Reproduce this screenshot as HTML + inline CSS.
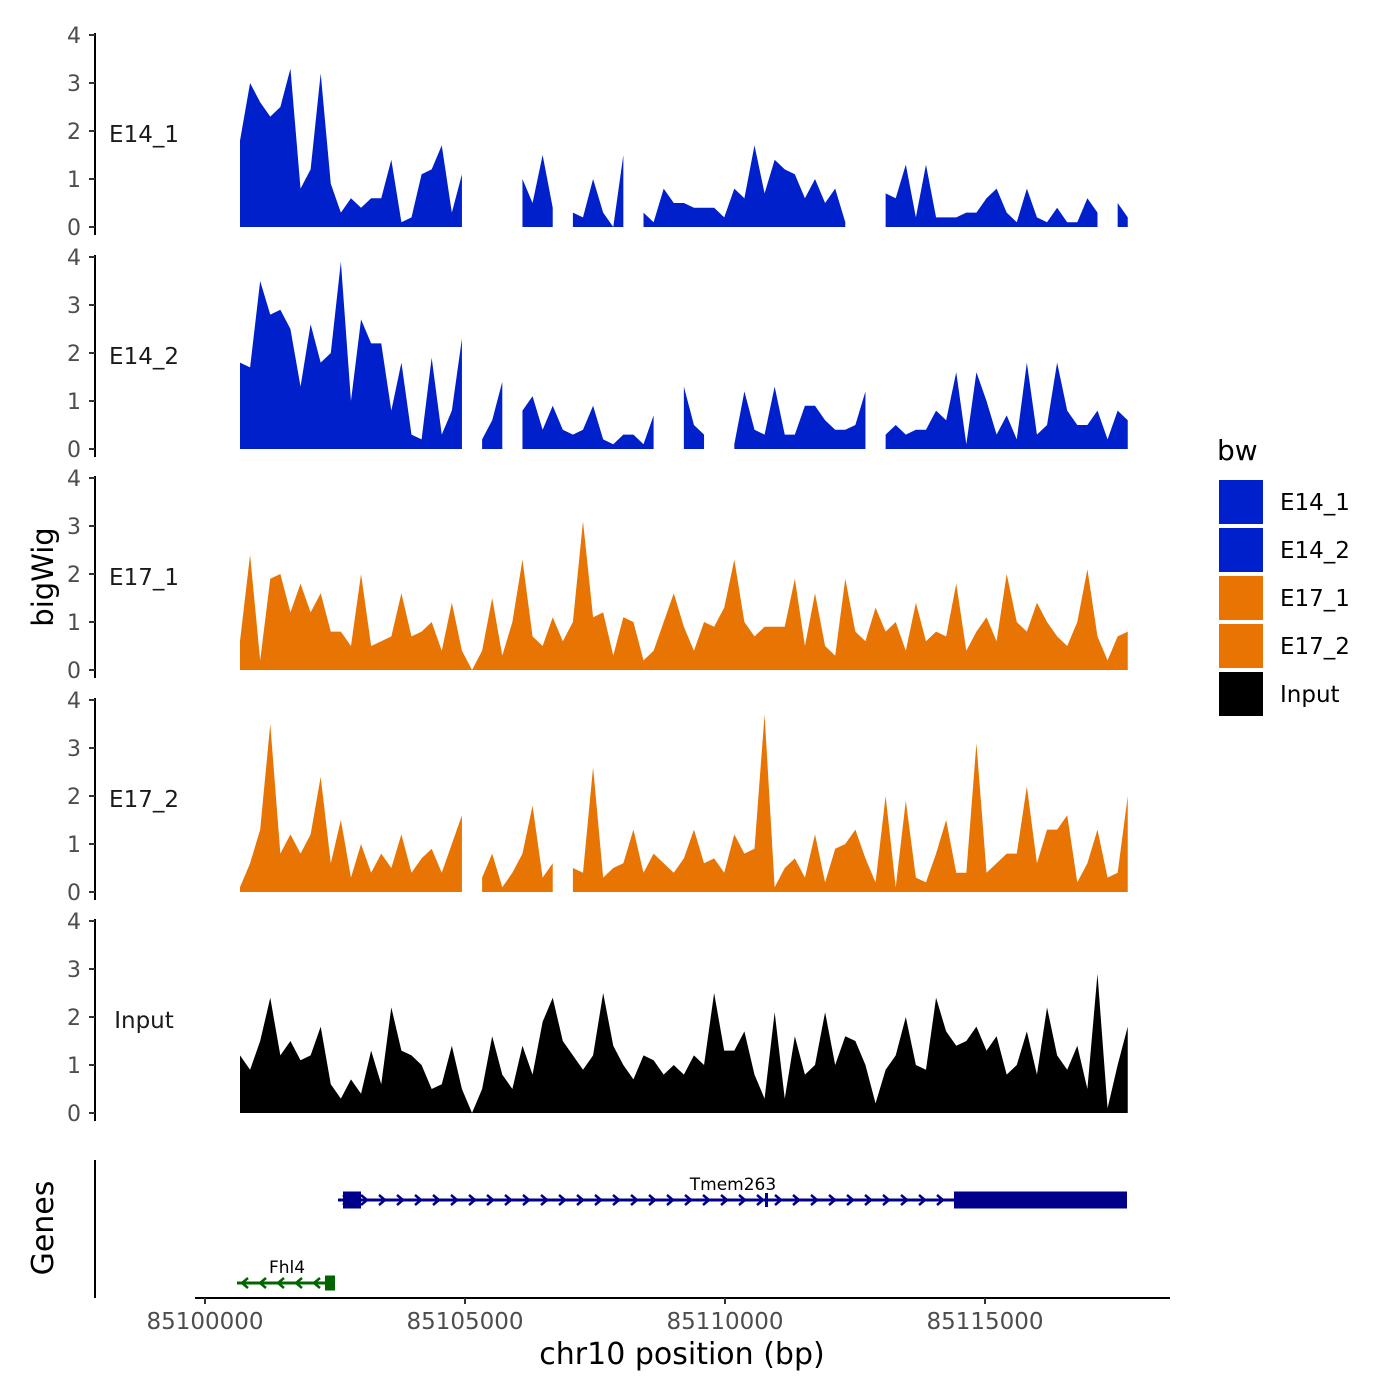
<!DOCTYPE html>
<html><head><meta charset="utf-8">
<style>
html,body{margin:0;padding:0;background:#fff;}
svg{display:block;font-family:"DejaVu Sans","Liberation Sans",sans-serif;}
</style></head>
<body>
<svg id="chart" width="1400" height="1400" viewBox="0 0 1400 1400" xmlns="http://www.w3.org/2000/svg">
<g id="tracks"></g>
<g id="genes"></g>
<g id="xaxis"></g>
<text x="53" y="577" transform="rotate(-90 53 577)" text-anchor="middle" font-size="29" fill="#000">bigWig</text>
<text x="53" y="1228" transform="rotate(-90 53 1228)" text-anchor="middle" font-size="30" fill="#000">Genes</text>
<text x="682" y="1364" text-anchor="middle" font-size="30" fill="#000">chr10 position (bp)</text>
<g id="legend"></g>
</svg>
<script>
const trackNames = ["E14_1","E14_2","E17_1","E17_2","Input"];
const trackColors = ["#0020CC","#0020CC","#E87503","#E87503","#000000"];
const yTicks = [0,1,2,3,4];
const xTickValues = [85100000,85105000,85110000,85115000];
const binStart = 85100673;
const binStep = 194;
const N = null;
const e14_1 = [1.8,3.0,2.6,2.3,2.5,3.3,0.8,1.2,3.2,0.9,0.3,0.6,0.4,0.6,0.6,1.4,0.1,0.2,1.1,1.2,1.7,0.3,1.1,N,N,0.6,N,N,1.0,0.5,1.5,0.4,N,0.3,0.2,1.0,0.3,0.0,1.5,N,0.3,0.1,0.8,0.5,0.5,0.4,0.4,0.4,0.2,0.8,0.6,1.7,0.7,1.4,1.2,1.1,0.6,1.0,0.5,0.8,0.1,N,N,N,0.7,0.6,1.3,0.2,1.3,0.2,0.2,0.2,0.3,0.3,0.6,0.8,0.3,0.1,0.8,0.2,0.1,0.4,0.1,0.1,0.6,0.3,N,0.5,0.2];
const e14_2 = [1.8,1.7,3.5,2.8,2.9,2.5,1.3,2.6,1.8,2.0,3.9,1.0,2.7,2.2,2.2,0.8,1.8,0.3,0.2,1.9,0.3,0.8,2.3,N,0.2,0.6,1.4,N,0.8,1.1,0.4,0.9,0.4,0.3,0.4,0.9,0.2,0.1,0.3,0.3,0.1,0.7,N,N,1.3,0.5,0.3,N,N,0.1,1.2,0.4,0.3,1.3,0.3,0.3,0.9,0.9,0.6,0.4,0.4,0.5,1.2,N,0.3,0.5,0.3,0.4,0.4,0.8,0.6,1.6,0.1,1.6,1.0,0.3,0.7,0.2,1.8,0.3,0.5,1.8,0.8,0.5,0.5,0.8,0.2,0.8,0.6];
const e17_1 = [0.6,2.4,0.2,1.9,2.0,1.2,1.8,1.2,1.6,0.8,0.8,0.5,2.0,0.5,0.6,0.7,1.6,0.7,0.8,1.0,0.4,1.4,0.4,0.0,0.4,1.5,0.3,1.0,2.3,0.7,0.5,1.1,0.6,1.0,3.1,1.1,1.2,0.3,1.1,1.0,0.2,0.4,1.0,1.6,0.9,0.4,1.0,0.9,1.3,2.3,1.0,0.7,0.9,0.9,0.9,1.9,0.5,1.6,0.5,0.3,1.9,0.8,0.6,1.3,0.8,1.0,0.4,1.4,0.6,0.8,0.7,1.8,0.4,0.8,1.1,0.6,2.0,1.0,0.8,1.4,1.0,0.7,0.5,1.0,2.1,0.7,0.2,0.7,0.8];
const e17_2 = [0.1,0.6,1.3,3.5,0.8,1.2,0.8,1.2,2.4,0.6,1.5,0.3,1.0,0.4,0.8,0.5,1.2,0.4,0.7,0.9,0.4,1.0,1.6,N,0.3,0.8,0.1,0.4,0.8,1.8,0.3,0.6,N,0.5,0.4,2.6,0.3,0.5,0.6,1.3,0.4,0.8,0.6,0.4,0.7,1.3,0.6,0.7,0.4,1.2,0.8,0.9,3.7,0.1,0.5,0.7,0.3,1.2,0.2,0.9,1.0,1.3,0.7,0.2,2.0,0.1,1.9,0.3,0.2,0.8,1.5,0.4,0.4,3.1,0.4,0.6,0.8,0.8,2.2,0.6,1.3,1.3,1.6,0.2,0.6,1.3,0.3,0.4,2.0];
const input = [1.2,0.9,1.5,2.4,1.2,1.5,1.1,1.2,1.8,0.6,0.3,0.7,0.4,1.3,0.6,2.2,1.3,1.2,1.0,0.5,0.6,1.4,0.5,0.0,0.5,1.6,0.8,0.5,1.4,0.8,1.9,2.4,1.5,1.2,0.9,1.2,2.5,1.4,1.0,0.7,1.2,1.1,0.8,1.0,0.8,1.2,1.0,2.5,1.3,1.3,1.7,0.8,0.3,2.1,0.3,1.6,0.8,1.0,2.1,1.0,1.6,1.5,1.0,0.2,0.9,1.2,2.0,1.0,0.9,2.4,1.7,1.4,1.5,1.8,1.3,1.6,0.8,1.0,1.7,0.8,2.2,1.2,0.9,1.4,0.5,2.9,0.1,1.0,1.8];
const trackValues = [e14_1,e14_2,e17_1,e17_2,input];

const NS="http://www.w3.org/2000/svg";
function mk(tag, attrs, parent){const e=document.createElementNS(NS,tag);for(const k in attrs)e.setAttribute(k,attrs[k]);parent.appendChild(e);return e;}
const xScale = bp => 205 + (bp-85100000)*0.052;
const baselines = [227,449,670,892,1113];
const pxPerUnit = 48;

const tracks=document.getElementById('tracks');
trackNames.forEach((name,t)=>{
  const g=mk('g',{},tracks);
  
  
  const b=baselines[t];
  const y=v=>b - v*pxPerUnit;
  const ax=mk('line',{x1:95,x2:95,y1:y(4)-2,y2:b+8,stroke:'#000','stroke-width':2},g);
  
  
  yTicks.forEach(v=>{
    const tk=mk('line',{x1:89,x2:95,y1:y(v),y2:y(v),stroke:'#333','stroke-width':2},g);
    
    
    const tl=mk('text',{x:81,y:y(v)+8,'text-anchor':'end','font-size':22,fill:'#4d4d4d'},g);
    tl.textContent=v;
    
    
  });
  const lab=mk('text',{x:144,y:b-85,'text-anchor':'middle','font-size':23,fill:'#1a1a1a'},g);
  lab.textContent=name;
  
  
  const vals=trackValues[t];
  let seg=[];
  const segs=[];
  vals.forEach((v,i)=>{
    if(v===null){if(seg.length)segs.push(seg);seg=[];}
    else seg.push([xScale(binStart+i*binStep),y(v)]);
  });
  if(seg.length)segs.push(seg);
  segs.forEach(s=>{
    let d='M'+s[0][0]+','+b;
    s.forEach(p=>{d+=' L'+p[0]+','+p[1];});
    d+=' L'+s[s.length-1][0]+','+b+' Z';
    const p=mk('path',{d:d,fill:trackColors[t],stroke:'none'},g);
    
    
  });
});

const genes=document.getElementById('genes');
const gax=mk('line',{x1:95,x2:95,y1:1160,y2:1298,stroke:'#000','stroke-width':2},genes);


function gene(name,y,x1,x2,color,dir,exons,lx){
  const g=mk('g',{},genes);
  
  
  mk('line',{x1:x1,x2:x2,y1:y,y2:y,stroke:color,'stroke-width':3},g);
  for(let x=x1+8;x<x2-4;x+=18){
    const d=dir>0?`M${x-3},${y-5} L${x+3},${y} L${x-3},${y+5}`:`M${x+3},${y-5} L${x-3},${y} L${x+3},${y+5}`;
    mk('path',{d:d,fill:'none',stroke:color,'stroke-width':2.5},g);
  }
  exons.forEach(e=>mk('rect',{x:e[0],y:y-e[2]/2,width:e[1]-e[0],height:e[2],fill:color},g));
  const t=mk('text',{x:lx,y:y-10,'text-anchor':'middle','font-size':17,fill:'#000'},g);
  t.textContent=name;
}
gene('Tmem263',1200,338,1127,'#00008B',1,[[343,361,17],[765,768,14],[954,1127,17]],733);
gene('Fhl4',1283,237,335,'#006400',-1,[[325,335,15]],287);

const xa=document.getElementById('xaxis');
const xl=mk('line',{x1:195,x2:1170,y1:1298,y2:1298,stroke:'#000','stroke-width':2},xa);


xTickValues.forEach(v=>{
  const x=xScale(v);
  const tk=mk('line',{x1:x,x2:x,y1:1298,y2:1304,stroke:'#333','stroke-width':2},xa);
  
  
  const tl=mk('text',{x:x,y:1329,'text-anchor':'middle','font-size':23,fill:'#4d4d4d'},xa);
  tl.textContent=v;
  
  
});

const lg=document.getElementById('legend');
const lt=mk('text',{x:1217,y:460,'font-size':28,fill:'#000'},lg);
lt.textContent='bw';


trackNames.forEach((n,i)=>{
  const g=mk('g',{},lg);
  
  
  mk('rect',{x:1219,y:480+i*48,width:44,height:44,fill:trackColors[i]},g);
  const t=mk('text',{x:1280,y:510+i*48,'font-size':23,fill:'#000'},g);
  t.textContent=n;
});
</script>
</body></html>
